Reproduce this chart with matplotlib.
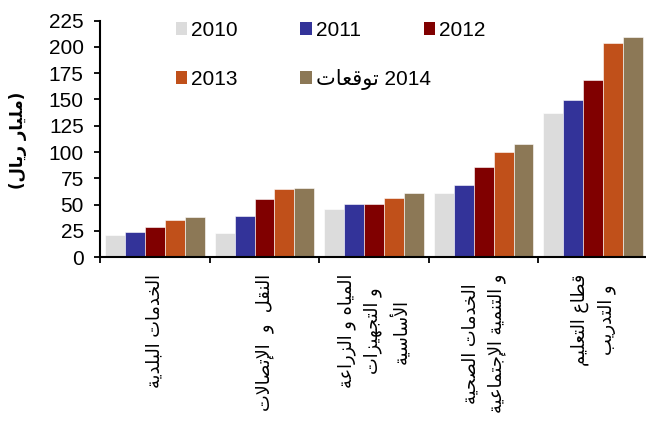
import matplotlib
matplotlib.use("Agg")
import matplotlib.pyplot as plt
from matplotlib.patches import Patch
import numpy as np

# values in billion riyals, per sector and year
categories = [
    "الخدمات البلدية",
    "النقل  و  الإتصالات",
    "المياه و الزراعة\nو التجهيزات\nالأساسية",
    "الخدمات الصحية\nو التنمية الإجتماعية",
    "قطاع التعليم\nو التدريب",
]
years = ["2010", "2011", "2012", "2013", "2014"]
v2010 = [21.2, 23.4, 45.6, 60.8, 137.2]
v2011 = [24.3, 39.5, 50.4, 68.4, 149.5]
v2012 = [28.5, 55.4, 50.7, 85.8, 168.3]
v2013 = [35.5, 64.6, 56.4, 99.8, 203.4]
v2014 = [38.6, 65.9, 60.8, 107.7, 209.4]
colors = ["#dcdcdc", "#333399", "#800000", "#c0501a", "#8c7856"]
ylabel = "(مليار ريال)"
forecast = "توقعات"

# --- minimal arabic shaping (matplotlib has no complex text layout) ---
FOUR = {
    "ئ": 0xFE89, "ب": 0xFE8F, "ت": 0xFE95, "ث": 0xFE99, "ج": 0xFE9D,
    "ح": 0xFEA1, "خ": 0xFEA5, "س": 0xFEB1, "ش": 0xFEB5, "ص": 0xFEB9,
    "ض": 0xFEBD, "ط": 0xFEC1, "ظ": 0xFEC5, "ع": 0xFEC9, "غ": 0xFECD,
    "ف": 0xFED1, "ق": 0xFED5, "ك": 0xFED9, "ل": 0xFEDD, "م": 0xFEE1,
    "ن": 0xFEE5, "ه": 0xFEE9, "ي": 0xFEF1,
}
TWO = {
    "آ": 0xFE81, "أ": 0xFE83, "ؤ": 0xFE85, "إ": 0xFE87, "ا": 0xFE8D,
    "ة": 0xFE93, "د": 0xFEA9, "ذ": 0xFEAB, "ر": 0xFEAD, "ز": 0xFEAF,
    "و": 0xFEED, "ى": 0xFEEF,
    # lam-alef ligatures, keyed by placeholder chars
    "\ue001": 0xFEF5, "\ue002": 0xFEF7, "\ue003": 0xFEF9, "\ue004": 0xFEFB,
}
LAM_ALEF = {"لآ": "\ue001", "لأ": "\ue002", "لإ": "\ue003", "لا": "\ue004"}
MIRROR = {"(": ")", ")": "("}


def shape_word(s):
    for k, v in LAM_ALEF.items():
        s = s.replace(k, v)
    out = []
    for i, ch in enumerate(s):
        prev = s[i - 1] if i > 0 else ""
        nxt = s[i + 1] if i + 1 < len(s) else ""
        join_prev = prev in FOUR
        join_next = ch in FOUR and (nxt in FOUR or nxt in TWO)
        if ch in FOUR:
            base = FOUR[ch]
            if join_prev and join_next:
                out.append(chr(base + 3))
            elif join_prev:
                out.append(chr(base + 1))
            elif join_next:
                out.append(chr(base + 2))
            else:
                out.append(chr(base))
        elif ch in TWO:
            out.append(chr(TWO[ch] + (1 if join_prev else 0)))
        else:
            out.append(MIRROR.get(ch, ch))
    return "".join(out)


def visual(text):
    # right-to-left lines: shape, then reverse for left-to-right drawing
    return "\n".join(shape_word(line)[::-1] for line in text.split("\n"))


plt.rcParams["font.family"] = ["Liberation Sans", "DejaVu Sans"]

fig = plt.figure(figsize=(6.46, 4.21), dpi=100)
ax = fig.add_axes([0.155, 0.389, 0.848, 0.562])

series = [v2010, v2011, v2012, v2013, v2014]
x = np.arange(len(categories))
w = 0.182
for i, (vals, c) in enumerate(zip(series, colors)):
    ax.bar(x + (i - 2) * w, vals, w, color=c, edgecolor="white", linewidth=0.4)

ax.set_xlim(-0.5, 4.5)
ax.set_ylim(0, 225)
ax.set_yticks(np.arange(0, 226, 25))
ax.tick_params(axis="y", labelsize=15, length=4.3, width=1.3, pad=7.5)

# boundary ticks between groups, labels at group centres
ax.set_xticks(np.arange(-0.5, 5, 1))
ax.set_xticklabels([])
ax.tick_params(axis="x", which="major", length=4.5, width=1.3)
ax.set_xticks(x, minor=True)
ax.set_xticklabels([visual(c) for c in categories], minor=True, rotation=90,
                   fontsize=12.8, family="DejaVu Sans", linespacing=1.55)
ax.tick_params(axis="x", which="minor", length=0, pad=12)

for side in ["top", "right"]:
    ax.spines[side].set_visible(False)
for side in ["left", "bottom"]:
    ax.spines[side].set_linewidth(1.5)

fig.text(0.028, 0.667, visual(ylabel), rotation=90, ha="center", va="center",
         fontsize=12, fontweight="bold", family="DejaVu Sans")

labels = years[:4] + [visual(forecast) + " 2014"]
handles = [Patch(facecolor=c, edgecolor="none") for c in colors]
leg_kw = dict(frameon=False, fontsize=15, handlelength=0.55, handleheight=0.55,
              handletextpad=0.2, columnspacing=3.0, borderpad=0, borderaxespad=0,
              loc="upper left")
leg1 = ax.legend(handles[:3], labels[:3], ncol=3,
                 bbox_to_anchor=(0.272, 0.951, 0, 0), bbox_transform=fig.transFigure, **leg_kw)
ax.add_artist(leg1)
ax.legend(handles[3:], labels[3:], ncol=2,
          bbox_to_anchor=(0.272, 0.837, 0, 0), bbox_transform=fig.transFigure, **leg_kw)

fig.savefig("out.png", dpi=100)
